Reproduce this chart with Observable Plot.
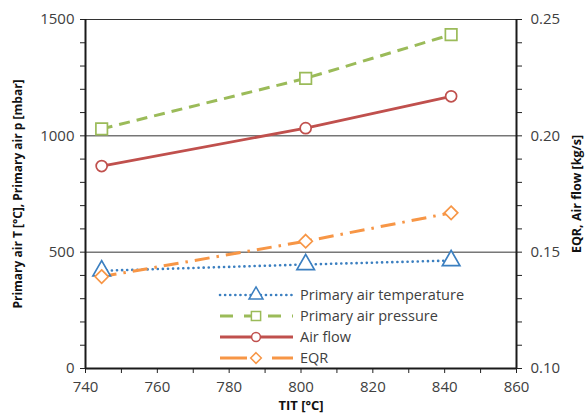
<!DOCTYPE html>
<html>
<head>
<meta charset="utf-8">
<script src="https://cdn.jsdelivr.net/npm/d3@7"></script>
<script src="https://cdn.jsdelivr.net/npm/@observablehq/plot@0.6"></script>
<style>
  body { margin: 0; background: #fff; }
  #wrap { position: relative; width: 585px; height: 415px; overflow: hidden; }
  #legend { position: absolute; left: 0; top: 0; }
</style>
</head>
<body>
<div id="wrap"></div>
<script>
// ---- data ----
const tit = [744.5, 801.3, 841.8];
const primaryAirTemperature = [420, 447, 464];     // left axis
const primaryAirPressure = [1030, 1247, 1435];      // left axis
const airFlow = [0.187, 0.2033, 0.217];             // right axis
const eqr = [0.1395, 0.1547, 0.1669];               // right axis

const seriesNames = ["Primary air temperature", "Primary air pressure", "Air flow", "EQR"];
const xTicks = [740, 760, 780, 800, 820, 840, 860];
const leftTicks = [0, 500, 1000, 1500];
const rightTicks = [0.10, 0.15, 0.20, 0.25];

// right-axis values expressed on the left scale (0.10..0.25 -> 0..1500)
const r2l = v => (v - 0.10) * 10000;

const styles = [
  {color: "#3b7fc0", dash: "0.1,5", legendDash: "0.1,5", width: 2.6, cap: "round", symbol: "triangle", r: 6.5},
  {color: "#9bbb59", dash: "11,7", legendDash: "13,11", width: 3, cap: "butt", symbol: "square", r: 6.5},
  {color: "#c0504d", dash: null, legendDash: null, width: 2.8, cap: "butt", symbol: "circle", r: 5.5},
  {color: "#f79646", dash: "15,7,2.5,7", legendDash: "27,25", width: 3, cap: "butt", symbol: "diamond2", r: 6}
];

const rows = [];
tit.forEach((t, i) => {
  rows.push({s: 0, x: t, y: primaryAirTemperature[i]});
  rows.push({s: 1, x: t, y: primaryAirPressure[i]});
  rows.push({s: 2, x: t, y: r2l(airFlow[i])});
  rows.push({s: 3, x: t, y: r2l(eqr[i])});
});

const seriesMarks = [];
styles.forEach((st, k) => {
  const d = rows.filter(r => r.s === k);
  seriesMarks.push(Plot.line(d, {x: "x", y: "y", stroke: st.color, strokeWidth: st.width,
    strokeDasharray: st.dash, strokeLinecap: st.cap}));
});
styles.forEach((st, k) => {
  const d = rows.filter(r => r.s === k);
  seriesMarks.push(Plot.dot(d, {x: "x", y: "y", symbol: () => st.symbol, r: st.r,
    stroke: st.color, fill: "white", strokeWidth: 1.7}));
});

const minorX = d3.range(740, 861, 10);
const minorLeft = d3.range(0, 1501, 100);
const minorRight = d3.range(10, 26, 1).map(v => r2l(v / 100));

const chart = Plot.plot({
  width: 585, height: 415,
  marginLeft: 85, marginRight: 69, marginTop: 19, marginBottom: 47,
  x: {domain: [740, 860]},
  y: {domain: [0, 1500]},
  style: {fontFamily: "'Open Sans', sans-serif", fontSize: "15px", color: "#404040", background: "white"},
  marks: [
    Plot.ruleY(leftTicks.slice(1), {stroke: "#333", strokeWidth: 1}),
    Plot.axisX({ticks: minorX, tickFormat: d => xTicks.includes(d) ? String(d) : "", tickSize: 5,
      tickPadding: 8, stroke: "#222", fill: "#404040", label: null}),
    Plot.axisY({ticks: minorLeft, tickFormat: d => leftTicks.includes(d) ? String(d) : "", tickSize: 5,
      tickPadding: 6, stroke: "#222", fill: "#404040", label: null}),
    Plot.axisY({anchor: "right", ticks: minorRight,
      tickFormat: d => { const v = Math.round(d / 100 + 10) / 100; return rightTicks.some(t => Math.abs(t - v) < 1e-9) ? v.toFixed(2) : ""; },
      tickSize: 5, tickPadding: 9, stroke: "#222", fill: "#404040", label: null}),
    Plot.ruleX([740, 860], {stroke: "#1a1a1a", strokeWidth: 2}),
    Plot.ruleY([0], {stroke: "#1a1a1a", strokeWidth: 2}),
    ...seriesMarks,
    Plot.text(["Primary air T [°C], Primary air p [mbar]"], {frameAnchor: "left", textAnchor: "middle", dx: -67, rotate: -90,
      fontWeight: "bold", fontSize: 12, fill: "#111"}),
    Plot.text(["EQR, Air flow [kg/s]"], {frameAnchor: "right", textAnchor: "middle", dx: 60, rotate: -90,
      fontWeight: "bold", fontSize: 12.5, fill: "#111"}),
    Plot.text(["TIT [°C]"], {frameAnchor: "bottom", dy: 41, fontWeight: "bold", fontSize: 13, fill: "#111"})
  ]
});

const wrap = document.getElementById("wrap");
wrap.appendChild(chart);

// ---- legend (overlay inside plot area) ----
const lg = d3.select(wrap).append("svg").attr("id", "legend")
  .attr("width", 585).attr("height", 415);
const lx0 = 220, lx1 = 293, lxm = 256, ltx = 300, ly0 = 295, ldy = 21;
const symMap = {triangle: d3.symbolTriangle, square: d3.symbolSquare, circle: d3.symbolCircle, diamond2: d3.symbolDiamond2};
styles.forEach((st, k) => {
  const y = ly0 + k * ldy;
  const g = lg.append("g");
  g.append("line").attr("x1", lx0).attr("x2", lx1).attr("y1", y).attr("y2", y)
    .attr("stroke", st.color).attr("stroke-width", st.width)
    .attr("stroke-dasharray", st.legendDash).attr("stroke-linecap", st.cap);
  g.append("path").attr("transform", `translate(${lxm},${y})`)
    .attr("d", d3.symbol(symMap[st.symbol], Math.PI * (st.r * 0.8) ** 2)())
    .attr("fill", "white").attr("stroke", st.color).attr("stroke-width", 1.5);
  g.append("text").attr("x", ltx).attr("y", y).attr("dy", "0.35em")
    .attr("font-family", "'Open Sans', sans-serif").attr("font-size", 14.5)
    .attr("fill", "#404040").text(seriesNames[k]);
});
</script>
</body>
</html>
